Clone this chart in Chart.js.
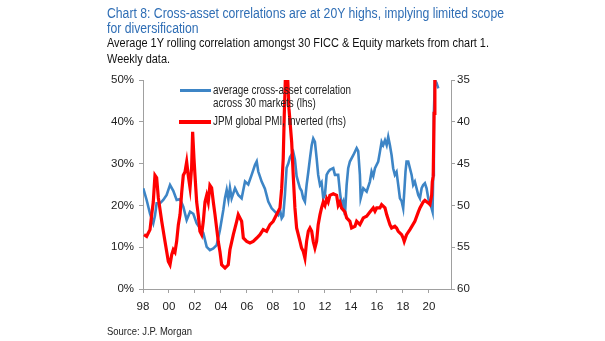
<!DOCTYPE html>
<html>
<head>
<meta charset="utf-8">
<script src="https://cdn.jsdelivr.net/npm/chart.js@4.4.0/dist/chart.umd.min.js"></script>
<style>
  html, body { margin: 0; padding: 0; background: #fff; }
  #wrap { position: relative; width: 605px; height: 341px; overflow: hidden; font-family: "Liberation Sans", Arial, sans-serif; }
  #chart { position: absolute; left: 0; top: 0; }
  .txt { position: absolute; white-space: pre; transform-origin: left top; }
  .key { position: absolute; height: 3px; }
</style>
</head>
<body>
<div id="wrap">
  <canvas id="chart" width="605" height="341"></canvas>
  <div class="txt" id="title" data-w="397" style="left:107px; top:5.4px; font-size:15.5px; line-height:15px; color:#2f6eb5;"><span>Chart 8: Cross-asset correlations are at 20Y highs, implying limited scope</span>
<span>for diversification</span></div>
  <div class="txt" id="sub" data-w="382" style="left:107px; top:36.4px; font-size:12.5px; line-height:15.5px; color:#111;"><span>Average 1Y rolling correlation amongst 30 FICC &amp; Equity markets from chart 1.</span>
<span>Weekly data.</span></div>
  <div class="key" style="left:180px; top:89.2px; width:31px; background:#3d85c6;"></div>
  <div class="key" style="left:179px; top:120px; width:32px; height:3.5px; background:#ff0000;"></div>
  <div class="txt" id="leg1" data-w="138" style="left:213px; top:84.2px; font-size:12px; line-height:12.6px; color:#222;"><span>average cross-asset correlation</span>
<span>across 30 markets (lhs)</span></div>
  <div class="txt" id="leg2" style="left:213px; top:115.2px; font-size:12px; line-height:12.6px; color:#222;"><span>JPM global PMI, inverted (rhs)</span></div>
  <div class="txt" id="src" style="left:107px; top:325px; font-size:10.5px; line-height:12px; color:#222;"><span>Source: J.P. Morgan</span></div>
</div>
<script>
// average cross-asset correlation (lhs, %)
const corrDates = [
  1998.02, 1998.28, 1998.54, 1998.79, 1998.92, 1999.05, 1999.31, 1999.56, 1999.82, 2000.08,
  2000.33, 2000.59, 2000.85, 2001.10, 2001.36, 2001.62, 2001.87, 2002.13, 2002.38, 2002.64,
  2002.90, 2003.15, 2003.41, 2003.67, 2003.92, 2004.18, 2004.31, 2004.44, 2004.57, 2004.69,
  2004.82, 2005.08, 2005.33, 2005.59, 2005.85, 2006.10, 2006.36, 2006.62, 2006.75, 2006.87,
  2007.13, 2007.38, 2007.64, 2007.90, 2008.15, 2008.41, 2008.54, 2008.67, 2008.79, 2008.92,
  2009.05, 2009.18, 2009.31, 2009.44, 2009.56, 2009.69, 2009.82, 2009.95, 2010.08, 2010.20,
  2010.33, 2010.46, 2010.59, 2010.72, 2010.85, 2010.98, 2011.10, 2011.23, 2011.36, 2011.48,
  2011.62, 2011.74, 2011.87, 2012.00, 2012.13, 2012.25, 2012.38, 2012.64, 2012.77, 2013.02,
  2013.15, 2013.28, 2013.41, 2013.54, 2013.67, 2013.79, 2013.92, 2014.18, 2014.44, 2014.56,
  2014.69, 2014.75, 2014.95, 2015.21, 2015.46, 2015.59, 2015.72, 2015.85, 2016.10, 2016.23,
  2016.36, 2016.48, 2016.62, 2016.75, 2016.87, 2017.00, 2017.13, 2017.25, 2017.38, 2017.51,
  2017.64, 2017.77, 2017.90, 2018.02, 2018.10, 2018.20, 2018.28, 2018.41, 2018.54, 2018.67,
  2018.79, 2018.92, 2019.05, 2019.18, 2019.31, 2019.44, 2019.56, 2019.69, 2019.82, 2019.95,
  2020.08, 2020.21, 2020.28, 2020.33, 2020.38, 2020.46, 2020.59, 2020.72
];
const corrValues = [
  24.1, 21.3, 18.0, 15.7, 17.5, 20.5, 20.5, 21.3, 22.5, 24.9,
  23.5, 21.3, 21.5, 19.7, 16.5, 18.5, 18.0, 15.7, 14.6, 13.4,
  10.1, 9.3, 9.7, 10.5, 14.1, 18.9, 21.8, 23.7, 21.4, 24.2,
  21.7, 24.1, 22.5, 21.7, 25.7, 25.0, 27.3, 29.7, 30.5, 28.1,
  25.7, 24.0, 20.9, 19.3, 18.5, 17.7, 19.0, 16.9, 17.5, 22.5,
  29.0, 30.0, 31.5, 32.2, 32.8, 31.0, 27.0, 25.5, 24.1, 23.5,
  21.7, 20.9, 24.9, 28.0, 31.3, 34.4, 36.0, 35.2, 31.3, 27.3,
  24.9, 25.5, 21.7, 22.5, 27.3, 28.0, 28.5, 28.9, 27.3, 27.3,
  23.3, 20.1, 21.0, 17.7, 24.9, 28.9, 30.5, 32.0, 33.7, 33.0,
  27.3, 21.7, 24.1, 23.3, 25.7, 28.1, 27.0, 28.9, 30.5, 32.8,
  35.2, 34.4, 35.6, 34.4, 36.4, 34.4, 32.0, 28.9, 27.3, 28.0,
  24.9, 21.7, 21.0, 19.3, 23.0, 28.1, 30.5, 30.5, 28.9, 27.3,
  24.9, 25.7, 24.1, 22.5, 21.7, 24.1, 24.9, 25.3, 24.1, 21.7,
  20.5, 19.3, 18.5, 27.3, 41.6, 50.0, 49.3, 48.0
];

// JPM global PMI, inverted (rhs)
const pmiDates = [
  1998.08, 1998.28, 1998.54, 1998.67, 1998.79, 1998.92, 1999.05, 1999.18, 1999.44, 1999.69,
  1999.95, 2000.08, 2000.21, 2000.33, 2000.46, 2000.59, 2000.72, 2000.85, 2000.98, 2001.10,
  2001.23, 2001.36, 2001.48, 2001.62, 2001.74, 2001.82, 2001.92, 2002.00, 2002.13, 2002.25,
  2002.38, 2002.51, 2002.64, 2002.77, 2002.90, 2003.02, 2003.15, 2003.28, 2003.41, 2003.54,
  2003.79, 2003.92, 2004.05, 2004.31, 2004.56, 2004.69, 2004.95, 2005.21, 2005.33, 2005.46,
  2005.59, 2005.72, 2005.98, 2006.23, 2006.48, 2006.75, 2007.00, 2007.25, 2007.51, 2007.77,
  2008.02, 2008.28, 2008.54, 2008.67, 2008.79, 2008.87, 2008.98, 2009.10, 2009.23, 2009.44,
  2009.56, 2009.69, 2009.82, 2010.08, 2010.20, 2010.33, 2010.46, 2010.59, 2010.72, 2010.85,
  2010.98, 2011.10, 2011.23, 2011.36, 2011.48, 2011.62, 2011.74, 2011.87, 2012.00, 2012.13,
  2012.25, 2012.38, 2012.64, 2012.90, 2013.02, 2013.15, 2013.28, 2013.54, 2013.67, 2013.92,
  2014.05, 2014.31, 2014.44, 2014.69, 2014.95, 2015.21, 2015.46, 2015.72, 2015.85, 2015.98,
  2016.23, 2016.36, 2016.62, 2016.75, 2017.00, 2017.13, 2017.38, 2017.51, 2017.64, 2017.90,
  2018.02, 2018.10, 2018.28, 2018.54, 2018.92, 2019.18, 2019.31, 2019.56, 2019.69, 2019.95,
  2020.08, 2020.21, 2020.26, 2020.33, 2020.40, 2020.46
];
const pmiValues = [
  53.5, 53.7, 52.9, 51.1, 49.6, 46.4, 46.7, 49.1, 51.9, 54.3,
  56.7, 57.1, 55.9, 55.3, 55.6, 54.3, 52.3, 51.1, 48.4, 46.4,
  46.0, 44.8, 46.4, 47.9, 45.5, 41.2, 44.3, 46.4, 49.6, 51.1,
  53.1, 53.5, 51.9, 49.6, 48.8, 49.6, 47.6, 47.9, 49.6, 51.1,
  54.3, 55.5, 57.1, 57.5, 57.1, 55.3, 53.5, 51.9, 51.1, 51.5,
  51.9, 53.9, 54.3, 54.5, 54.3, 53.9, 53.5, 52.9, 53.1, 52.3,
  51.9, 51.1, 50.3, 48.0, 44.4, 39.2, 33.5, 33.5, 38.4, 42.4,
  46.4, 50.3, 52.7, 54.3, 55.1, 55.5, 56.3, 54.3, 53.1, 52.7,
  53.1, 54.3, 55.1, 54.3, 52.3, 51.1, 50.3, 49.6, 50.0, 49.2,
  49.6, 48.8, 48.6, 48.8, 50.0, 49.6, 50.3, 50.8, 51.5, 51.9,
  52.7, 52.5, 51.9, 52.3, 51.5, 51.3, 50.8, 50.3, 50.7, 50.3,
  50.3, 49.9, 50.3, 51.1, 52.3, 52.7, 52.5, 52.7, 53.1, 53.5,
  53.9, 54.3, 53.5, 52.9, 51.9, 50.8, 50.3, 49.6, 49.4, 49.7,
  49.9, 48.8, 47.2, 46.5, 39.0, 33.0
];

const yearTicks = [1998, 2000, 2002, 2004, 2006, 2008, 2010, 2012, 2014, 2016, 2018, 2020];
const pctTicks = [0, 10, 20, 30, 40, 50];
const pmiTicks = [35, 40, 45, 50, 55, 60];

const toPoints = (dates, values) => dates.map((d, i) => ({ x: d, y: values[i] }));

const axisGrid = { display: true, drawOnChartArea: false, drawTicks: true, tickLength: 4, color: '#a0a0a0' };
const axisBorder = { display: true, color: '#a0a0a0', width: 1 };
const tickFont = { family: '"Liberation Sans", Arial, sans-serif', size: 11.5 };

const ctx = document.getElementById('chart').getContext('2d');
const myChart = new Chart(ctx, {
    type: 'line',
    data: {
        datasets: [{
            label: 'JPM global PMI, inverted (rhs)',
            data: toPoints(pmiDates, pmiValues),
            yAxisID: 'y1',
            borderColor: '#ff0000',
            borderWidth: 3.2,
            pointRadius: 0,
            tension: 0,
            order: 0
        }, {
            label: 'average cross-asset correlation across 30 markets (lhs)',
            data: toPoints(corrDates, corrValues),
            yAxisID: 'y',
            borderColor: '#3d85c6',
            borderWidth: 2.6,
            pointRadius: 0,
            tension: 0,
            order: 1
        }]
    },
    options: {
        responsive: false,
        animation: false,
        devicePixelRatio: 1,
        layout: { padding: { top: 80, left: 0, right: 0, bottom: 0 } },
        plugins: {
            legend: { display: false },
            tooltip: { enabled: false }
        },
        scales: {
            x: {
                type: 'linear',
                min: 1998,
                max: 2021.7,
                grid: axisGrid,
                border: axisBorder,
                afterBuildTicks: (scale) => {
                    scale.ticks = yearTicks.map(v => ({ value: v }));
                },
                afterFit: (scale) => { scale.height = 52; },
                ticks: {
                    autoSkip: false,
                    maxRotation: 0,
                    padding: 7,
                    color: '#222',
                    font: tickFont,
                    callback: (v) => String(v % 100).padStart(2, '0')
                }
            },
            y: {
                position: 'left',
                min: 0,
                max: 50,
                grid: axisGrid,
                border: axisBorder,
                afterBuildTicks: (scale) => {
                    scale.ticks = pctTicks.map(v => ({ value: v }));
                },
                afterFit: (scale) => { scale.width = 143; },
                ticks: {
                    padding: 5,
                    color: '#222',
                    font: tickFont,
                    callback: (v) => v + '%'
                }
            },
            y1: {
                position: 'right',
                min: 35,
                max: 60,
                reverse: true,
                grid: axisGrid,
                border: axisBorder,
                afterBuildTicks: (scale) => {
                    scale.ticks = pmiTicks.map(v => ({ value: v }));
                },
                afterFit: (scale) => { scale.width = 154; },
                ticks: {
                    padding: 2,
                    color: '#222',
                    font: tickFont
                }
            }
        }
    }
});

// squeeze text blocks to the width they take in the picture
const fitText = (id, fixedScale) => {
    const el = document.getElementById(id);
    let s = fixedScale;
    if (!s) {
        const first = el.querySelector('span');
        s = Number(el.dataset.w) / first.getBoundingClientRect().width;
    }
    el.style.transform = 'scaleX(' + s + ')';
    return s;
}

fitText('title');
fitText('sub');
const legScale = fitText('leg1');
fitText('leg2', legScale);
fitText('src', 0.9);
</script>
</body>
</html>
